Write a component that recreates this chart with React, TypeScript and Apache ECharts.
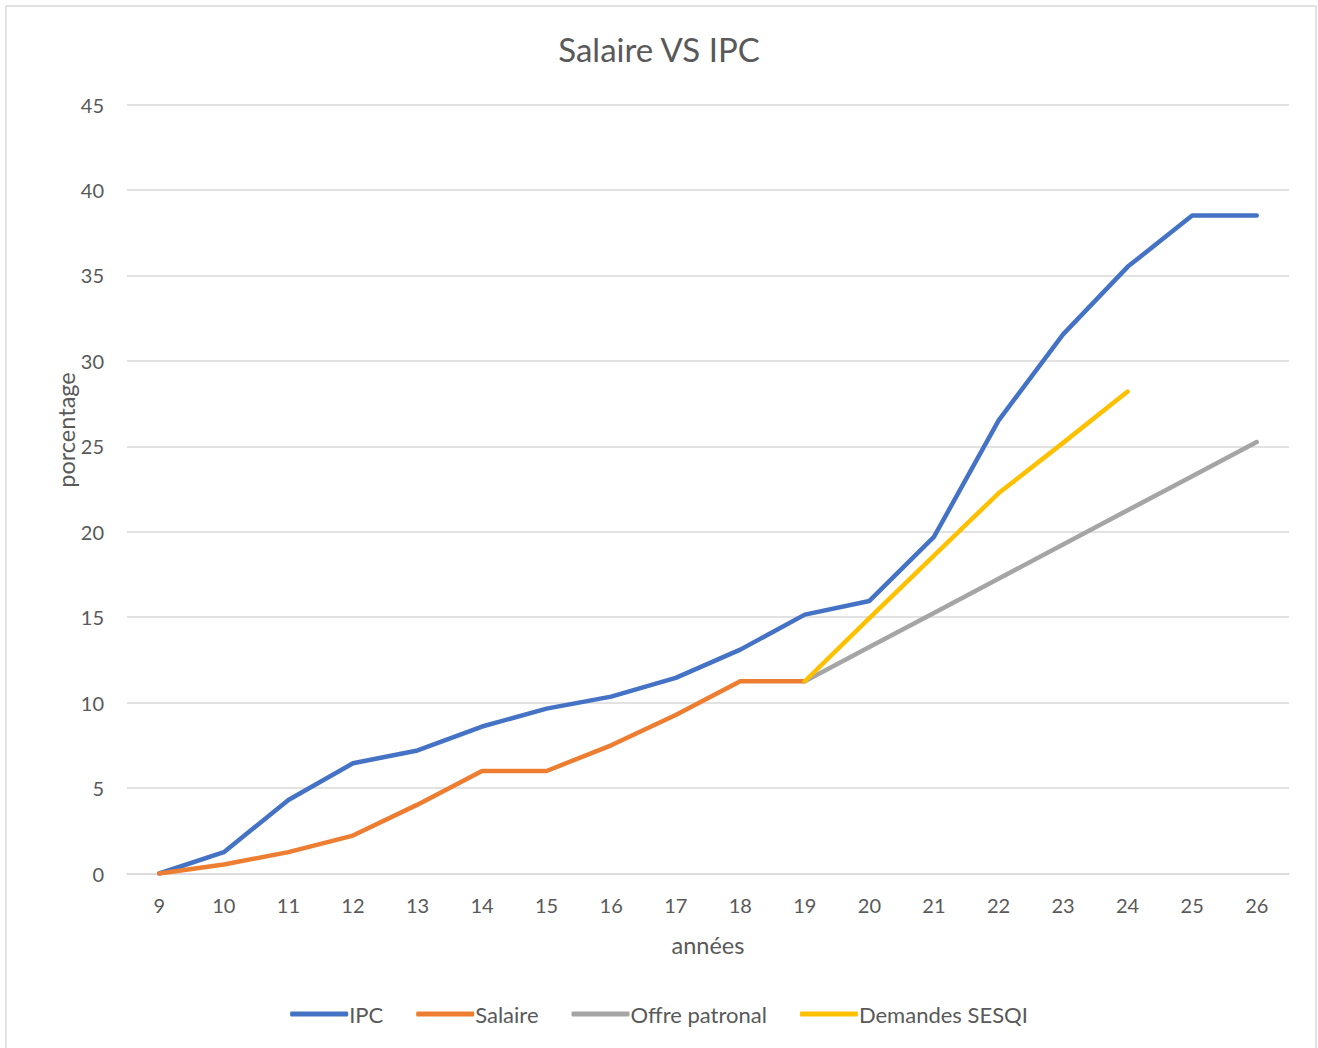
import React, { useEffect, useRef } from "react";
import * as echarts from "echarts";

const years = ["9", "10", "11", "12", "13", "14", "15", "16", "17", "18", "19", "20", "21", "22", "23", "24", "25", "26"];
const ipc = [0, 1.25, 4.3, 6.45, 7.2, 8.6, 9.65, 10.35, 11.45, 13.1, 15.15, 15.95, 19.7, 26.5, 31.55, 35.5, 38.5, 38.5];
const salaire = [0, 0.53, 1.25, 2.22, 4.03, 6.0, 6.0, 7.5, 9.28, 11.25, 11.25, null, null, null, null, null, null, null];
const offre = [null, null, null, null, null, null, null, null, null, null, 11.25, 13.25, 15.25, 17.25, 19.25, 21.25, 23.25, 25.25];
const demandes = [null, null, null, null, null, null, null, null, null, null, 11.25, 14.95, 18.6, 22.25, 25.2, 28.2, null, null];
const yTicks = { min: 0, max: 45, interval: 5 };

const FONT = "Lato, 'Noto Sans', sans-serif";
const TXT = "#595959";

export default function App() {
  const ref = useRef<HTMLDivElement>(null);
  useEffect(() => {
    if (!ref.current) return;
    const chart = echarts.init(ref.current, null, { renderer: "svg" });
    const line = (name: string, data: any[], color: string) => ({
      name,
      type: "line",
      data,
      showSymbol: false,
      symbol: "none",
      connectNulls: false,
      lineStyle: { color, width: 4.5, cap: "round", join: "round" },
      itemStyle: { color },
    });
    chart.setOption({
      animation: false,
      backgroundColor: "#fff",
      textStyle: { fontFamily: FONT },
      title: {
        text: "Salaire VS IPC",
        left: "center",
        top: 27,
        textStyle: { fontFamily: FONT, fontSize: 33, fontWeight: "normal", color: TXT },
      },
      graphic: [
        {
          type: "rect",
          shape: { x: 6, y: 6, width: 1310, height: 1050 },
          style: { fill: "none", stroke: "#d9d9d9", lineWidth: 1.5 },
          silent: true,
        },
        {
          type: "text",
          x: 66,
          y: 430,
          rotation: Math.PI / 2,
          style: {
            text: "porcentage",
            font: "23.5px Lato, 'Noto Sans', sans-serif",
            fill: TXT,
            align: "center",
            verticalAlign: "middle",
          },
          silent: true,
        },
      ],
      grid: { left: 127, right: 29, top: 104.5, bottom: 174.5, containLabel: false },
      legend: {
        bottom: 18,
        left: "center",
        itemWidth: 58,
        itemHeight: 5,
        itemGap: 33,
        icon: "roundRect",
        textStyle: { fontFamily: FONT, fontSize: 22, color: TXT, padding: [0, 0, 0, -4] },
        data: ["IPC", "Salaire", "Offre patronal", "Demandes SESQI"],
      },
      xAxis: {
        type: "category",
        data: years,
        boundaryGap: true,
        name: "années",
        nameLocation: "middle",
        nameGap: 59,
        nameTextStyle: { fontFamily: FONT, fontSize: 23.5, color: TXT },
        axisLine: { show: true, lineStyle: { color: "#d9d9d9", width: 1.5 } },
        axisTick: { show: false },
        axisLabel: { fontFamily: FONT, fontSize: 20, color: TXT, margin: 21 },
      },
      yAxis: {
        type: "value",
        min: yTicks.min,
        max: yTicks.max,
        interval: yTicks.interval,
        axisLine: { show: false },
        axisTick: { show: false },
        axisLabel: { fontFamily: FONT, fontSize: 20, color: TXT, margin: 23 },
        splitLine: { lineStyle: { color: "#d9d9d9", width: 1.5 } },
      },
      series: [
        line("IPC", ipc, "#4472C4"),
        line("Salaire", salaire, "#ED7D31"),
        line("Offre patronal", offre, "#A5A5A5"),
        line("Demandes SESQI", demandes, "#FFC000"),
      ],
    });
    return () => chart.dispose();
  }, []);
  return <div ref={ref} style={{ width: 1318, height: 1048, position: "absolute", left: 0, top: 0 }} />;
}
